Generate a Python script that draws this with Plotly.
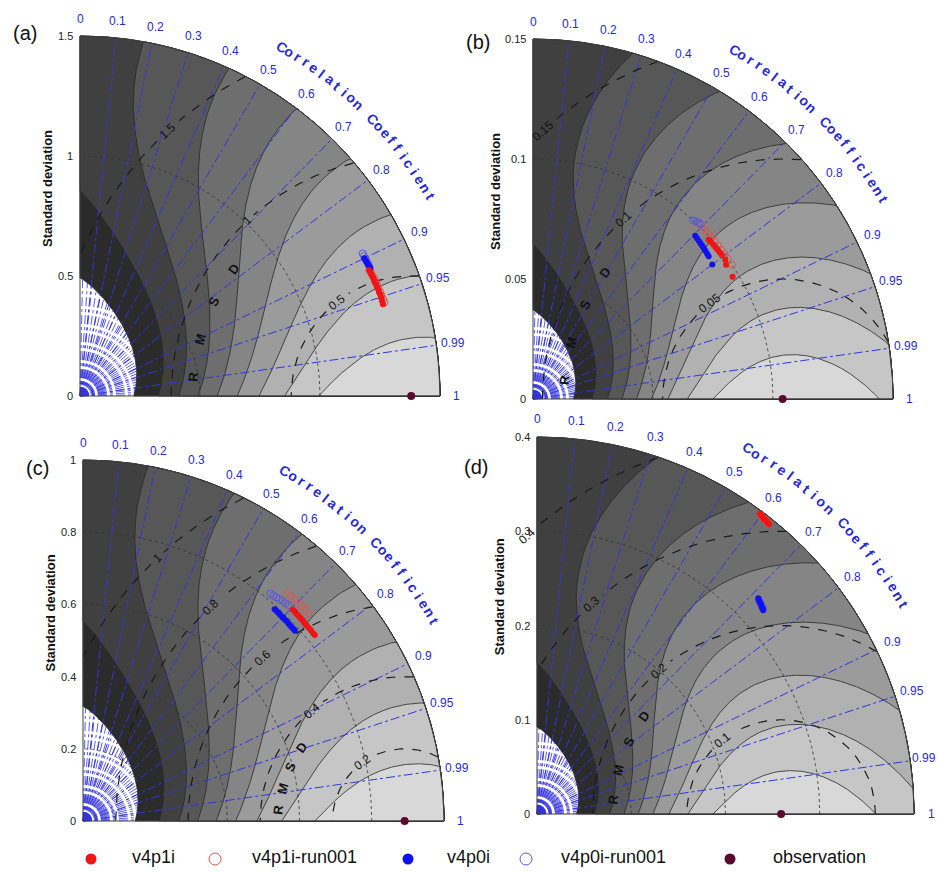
import numpy as np
import plotly.graph_objects as go

W, H = 937, 873
FONT = "Liberation Sans, Arial, sans-serif"

# ---------------- data ----------------
panel_names = ["(a)", "(b)", "(c)", "(d)"]
std_max = [1.5, 0.15, 1.0, 0.4]
obs_std = [1.38, 0.104, 0.891, 0.259]
std_ticks = [[0, 0.5, 1, 1.5], [0, 0.05, 0.1, 0.15], [0, 0.2, 0.4, 0.6, 0.8, 1], [0, 0.1, 0.2, 0.3, 0.4]]
std_tick_labels = [["0", "0.5", "1", "1.5"], ["0", "0.05", "0.1", "0.15"],
                   ["0", "0.2", "0.4", "0.6", "0.8", "1"], ["0", "0.1", "0.2", "0.3", "0.4"]]
std_arcs = [[0.5, 1.0], [0.05, 0.1], [0.2, 0.4, 0.6, 0.8], [0.1, 0.2, 0.3]]
rmsd_levels = [[0.5, 1.0, 1.5], [0.05, 0.1, 0.15], [0.2, 0.4, 0.6, 0.8, 1.0], [0.1, 0.2, 0.3, 0.4]]
rmsd_labels = [["0.5", "1", "1.5"], ["0.05", "0.1", "0.15"], ["0.2", "0.4", "0.6", "0.8", "1"], ["0.1", "0.2", "0.3", "0.4"]]
corr_ticks = [0, 0.1, 0.2, 0.3, 0.4, 0.5, 0.6, 0.7, 0.8, 0.9, 0.95, 0.99, 1]
corr_tick_labels = ["0", "0.1", "0.2", "0.3", "0.4", "0.5", "0.6", "0.7", "0.8", "0.9", "0.95", "0.99", "1"]
skill_levels = [0.1, 0.2, 0.3, 0.4, 0.5, 0.6, 0.7, 0.8, 0.9]

# panel (a)
a_v4p1i_std = [1.314, 1.316, 1.315, 1.317, 1.318, 1.316, 1.319, 1.318, 1.320, 1.319, 1.321, 1.320, 1.319, 1.319]
a_v4p1i_cor = [0.917, 0.920, 0.923, 0.927, 0.930, 0.933, 0.936, 0.939, 0.942, 0.945, 0.948, 0.951, 0.954, 0.957]
a_v4p1i_run_std = [1.314, 1.317, 1.318, 1.320, 1.321, 1.322, 1.323, 1.324, 1.325, 1.326, 1.327]
a_v4p1i_run_cor = [0.917, 0.921, 0.925, 0.929, 0.933, 0.937, 0.941, 0.945, 0.949, 0.953, 0.956]
a_v4p0i_std = [1.316, 1.317, 1.318, 1.319, 1.320, 1.321, 1.321]
a_v4p0i_cor = [0.900, 0.903, 0.906, 0.909, 0.911, 0.914, 0.916]
a_v4p0i_run_std = [1.319, 1.319, 1.320, 1.320, 1.321, 1.321]
a_v4p0i_run_cor = [0.893, 0.897, 0.901, 0.905, 0.909, 0.913]
# panel (b)
b_v4p1i_std = [0.0988, 0.0989, 0.0989, 0.0989, 0.0989, 0.0989, 0.0989, 0.0989, 0.0980, 0.0975]
b_v4p1i_cor = [0.741, 0.750, 0.759, 0.768, 0.777, 0.786, 0.795, 0.810, 0.821, 0.853]
b_v4p1i_run_std = [0.1006, 0.1005, 0.1004, 0.1003, 0.1003, 0.1002, 0.1001, 0.1001, 0.1000, 0.1000]
b_v4p1i_run_cor = [0.700, 0.714, 0.728, 0.742, 0.756, 0.770, 0.784, 0.798, 0.812, 0.829]
b_v4p0i_std = [0.0959, 0.0957, 0.0955, 0.0953, 0.0951, 0.0949, 0.0947, 0.0945, 0.0943, 0.0934]
b_v4p0i_cor = [0.705, 0.714, 0.723, 0.732, 0.741, 0.750, 0.759, 0.768, 0.776, 0.800]
b_v4p0i_run_std = [0.0999, 0.1003, 0.1006, 0.1009, 0.1008]
b_v4p0i_run_cor = [0.667, 0.674, 0.681, 0.688, 0.694]
# panel (c)
c_v4p1i_std = [0.825, 0.825, 0.824, 0.824, 0.824, 0.824, 0.823, 0.823, 0.823, 0.823, 0.823, 0.823]
c_v4p1i_cor = [0.704, 0.711, 0.718, 0.725, 0.732, 0.739, 0.746, 0.753, 0.760, 0.767, 0.774, 0.780]
c_v4p1i_run_std = [0.848, 0.848, 0.849, 0.849, 0.849, 0.850, 0.850]
c_v4p1i_run_cor = [0.667, 0.679, 0.690, 0.702, 0.713, 0.725, 0.736]
c_v4p0i_std = [0.791, 0.791, 0.791, 0.790, 0.790, 0.790, 0.790, 0.790, 0.789, 0.789, 0.789, 0.789]
c_v4p0i_cor = [0.671, 0.678, 0.684, 0.691, 0.698, 0.704, 0.711, 0.718, 0.724, 0.731, 0.738, 0.744]
c_v4p0i_run_std = [0.816, 0.818, 0.819, 0.821, 0.823, 0.824, 0.826]
c_v4p0i_run_cor = [0.636, 0.645, 0.654, 0.663, 0.672, 0.681, 0.690]
# panel (d)
d_v4p1i_std = [0.397, 0.396, 0.396, 0.395, 0.395, 0.395, 0.394, 0.394]
d_v4p1i_cor = [0.596, 0.600, 0.604, 0.608, 0.612, 0.616, 0.620, 0.625]
d_v4p1i_run_std = [0.396, 0.395, 0.395, 0.394]
d_v4p1i_run_cor = [0.600, 0.607, 0.614, 0.621]
d_v4p0i_std = [0.328, 0.327, 0.326, 0.326, 0.325, 0.324, 0.324, 0.323]
d_v4p0i_cor = [0.716, 0.720, 0.724, 0.728, 0.732, 0.736, 0.740, 0.743]
d_v4p0i_run_std = [0.327, 0.326, 0.325, 0.324]
d_v4p0i_run_cor = [0.720, 0.727, 0.734, 0.740]

series_names = ["v4p1i", "v4p1i-run001", "v4p0i", "v4p0i-run001"]
panel_series = [
    [(a_v4p1i_std, a_v4p1i_cor), (a_v4p1i_run_std, a_v4p1i_run_cor), (a_v4p0i_std, a_v4p0i_cor), (a_v4p0i_run_std, a_v4p0i_run_cor)],
    [(b_v4p1i_std, b_v4p1i_cor), (b_v4p1i_run_std, b_v4p1i_run_cor), (b_v4p0i_std, b_v4p0i_cor), (b_v4p0i_run_std, b_v4p0i_run_cor)],
    [(c_v4p1i_std, c_v4p1i_cor), (c_v4p1i_run_std, c_v4p1i_run_cor), (c_v4p0i_std, c_v4p0i_cor), (c_v4p0i_run_std, c_v4p0i_run_cor)],
    [(d_v4p1i_std, d_v4p1i_cor), (d_v4p1i_run_std, d_v4p1i_run_cor), (d_v4p0i_std, d_v4p0i_cor), (d_v4p0i_run_std, d_v4p0i_run_cor)],
]

# ---------------- layout / style ----------------
panel_origin_px = [(80, 396), (533, 399), (83, 821), (537, 814)]
panel_radius_px = [360, 360, 361, 377]
rmsd_label_angle = [[51.8, 47.1, 47.4], [52.8, 48.5, 48.2], [54.6, 49.9, 48.9, 47.8, 46.8], [51.6, 49.5, 47.9, 47.6]]
rmsd_word_radius = [0.91, 0.091, 0.35, 0.179]
rmsd_word_angles = [5, 15, 25.5, 35.5]
label_px = [(25, 33), (478, 42), (37, 468), (476, 467)]
band_colors = ["#2b2b2b", "#404040", "#575757", "#6e6e6e", "#858585", "#9b9b9b", "#b1b1b1", "#c6c6c6", "#d8d8d8"]
BLUE_LINE = "#3434dc"
BLUE_TEXT = "#2a2ad0"
series_style = [
    dict(symbol="circle", color="#f01414", size=6, line=dict(width=0)),
    dict(symbol="circle-open", color="#e05555", size=7, line=dict(width=1)),
    dict(symbol="circle", color="#1010f5", size=6, line=dict(width=0)),
    dict(symbol="circle-open", color="#5a5ad8", size=7, line=dict(width=1)),
]
OBS_COLOR = "#5a0a2e"
PAD = 0.03


def f_corr(th):
    t = np.clip(np.asarray(th, dtype=float) / 90.0, 0, 1)
    return 0.25 + 0.75 * (1 - t) ** 1.22


def band_polygon(L, obs, rmax):
    if L <= 0.25:
        thmax = 90.0
    else:
        thmax = 90.0 * (1 - ((L - 0.25) / 0.75) ** (1 / 1.22))
    th = np.linspace(0, thmax, 500)
    c = np.minimum(L / f_corr(th), 1.0)
    k = 2 / np.sqrt(c)
    d = np.sqrt(np.maximum(k * k - 4, 0))
    lo = np.minimum((k - d) / 2 * obs, rmax)
    hi = np.minimum((k + d) / 2 * obs, rmax)
    r = np.radians(th)
    xs = np.concatenate([lo * np.cos(r), (hi * np.cos(r))[::-1], [lo[0]]])
    ys = np.concatenate([lo * np.sin(r), (hi * np.sin(r))[::-1], [0.0]])
    return xs, ys


fig = go.Figure()
annotations = []

for p in range(4):
    sfx = "" if p == 0 else str(p + 1)
    xa, ya = "x" + sfx, "y" + sfx
    rmax = std_max[p]
    obs = obs_std[p]
    ox, oy = panel_origin_px[p]
    rpx = panel_radius_px[p]

    def to_px(x, y):
        return ox + x / rmax * rpx, oy - y / rmax * rpx

    def to_paper(x, y):
        qx, qy = to_px(x, y)
        return qx / W, 1 - qy / H

    fig.layout["xaxis" + sfx] = dict(
        domain=[(ox - PAD * rpx) / W, (ox + (1 + PAD) * rpx) / W],
        range=[-PAD * rmax, (1 + PAD) * rmax], visible=False, fixedrange=True, anchor=ya)
    fig.layout["yaxis" + sfx] = dict(
        domain=[(H - oy - PAD * rpx) / H, (H - oy + (1 + PAD) * rpx) / H],
        range=[-PAD * rmax, (1 + PAD) * rmax], visible=False, fixedrange=True, anchor=xa)

    # dense correlation grid near the origin (mostly hidden under the fills)
    dx, dy = [], []
    for ang in np.arange(1.25, 90, 2.5):
        a = np.radians(ang)
        dx += [0, 0.5 * rmax * np.cos(a), None]
        dy += [0, 0.5 * rmax * np.sin(a), None]
    fig.add_trace(go.Scatter(x=dx, y=dy, xaxis=xa, yaxis=ya, mode="lines",
                             line=dict(color=BLUE_LINE, width=0.8, dash="dashdot"), hoverinfo="skip", showlegend=False))
    ax_, ay_ = [], []
    tt = np.linspace(0, np.pi / 2, 30)
    for rr in [0.008, 0.016, 0.024, 0.032]:
        ax_ += list(rr * rmax * np.cos(tt)) + [None]
        ay_ += list(rr * rmax * np.sin(tt)) + [None]
    fig.add_trace(go.Scatter(x=ax_, y=ay_, xaxis=xa, yaxis=ya, mode="lines",
                             line=dict(color=BLUE_LINE, width=0.7), hoverinfo="skip", showlegend=False))

    # skill-score shaded bands
    for L, col in zip(skill_levels, band_colors):
        px_, py_ = band_polygon(L, obs, rmax)
        fig.add_trace(go.Scatter(x=px_, y=py_, xaxis=xa, yaxis=ya, mode="lines", fill="toself",
                                 fillcolor=col, line=dict(color="#2a2a2a", width=0.8),
                                 hoverinfo="skip", showlegend=False))

    # std dotted arcs
    sx, sy = [], []
    tt = np.linspace(0, np.pi / 2, 120)
    for s in std_arcs[p]:
        sx += list(s * np.cos(tt)) + [None]
        sy += list(s * np.sin(tt)) + [None]
    fig.add_trace(go.Scatter(x=sx, y=sy, xaxis=xa, yaxis=ya, mode="lines",
                             line=dict(color="#333333", width=0.8, dash="dot"), hoverinfo="skip", showlegend=False))

    # main correlation lines
    cx, cy = [], []
    for R in corr_ticks[1:-1]:
        a = np.arccos(R)
        cx += [0, rmax * np.cos(a), None]
        cy += [0, rmax * np.sin(a), None]
    fig.add_trace(go.Scatter(x=cx, y=cy, xaxis=xa, yaxis=ya, mode="lines",
                             line=dict(color=BLUE_LINE, width=1, dash="dashdot"), hoverinfo="skip", showlegend=False))

    # RMSD dashed circles, broken where the label sits
    rx, ry = [], []
    aa = np.linspace(0, np.pi, 600)
    for r, lab, phi in zip(rmsd_levels[p], rmsd_labels[p], rmsd_label_angle[p]):
        xx = obs + r * np.cos(aa)
        yy = r * np.sin(aa)
        ok = (xx >= 0) & (xx ** 2 + yy ** 2 <= rmax ** 2)
        half_px = 3.4 * len(lab) + 4
        half = half_px / rpx * rmax / r
        phi_here = np.pi - aa
        ok &= np.abs(phi_here - np.radians(phi)) > half
        xx = np.where(ok, xx, np.nan)
        yy = np.where(ok, yy, np.nan)
        rx += list(xx) + [None]
        ry += list(yy) + [None]
    fig.add_trace(go.Scatter(x=rx, y=ry, xaxis=xa, yaxis=ya, mode="lines", connectgaps=False,
                             line=dict(color="#1a1a1a", width=1.2, dash="dash"), hoverinfo="skip", showlegend=False))

    # frame
    tt = np.linspace(np.pi / 2, 0, 200)
    fx = [0] + list(rmax * np.cos(tt)) + [0, 0]
    fy = [0] + list(rmax * np.sin(tt)) + [0, 0]
    fig.add_trace(go.Scatter(x=fx, y=fy, xaxis=xa, yaxis=ya, mode="lines",
                             line=dict(color="#404040", width=1), hoverinfo="skip", showlegend=False))

    # data points
    for idx in [3, 1, 2, 0]:
        sd, cr = panel_series[p][idx]
        sd = np.array(sd)
        cr = np.array(cr)
        st = series_style[idx]
        fig.add_trace(go.Scatter(x=sd * cr, y=sd * np.sqrt(1 - cr ** 2), xaxis=xa, yaxis=ya, mode="markers",
                                 cliponaxis=False, name=series_names[idx],
                                 marker=dict(symbol=st["symbol"], color=st["color"], size=st["size"], line=st["line"]),
                                 showlegend=False))
    fig.add_trace(go.Scatter(x=[obs], y=[0], xaxis=xa, yaxis=ya, mode="markers", cliponaxis=False,
                             marker=dict(color=OBS_COLOR, size=8), name="observation", showlegend=False))

    # correlation tick labels
    for R, lab in zip(corr_ticks, corr_tick_labels):
        a = np.arccos(R)
        cxp, cyp = to_px(1.047 * rmax * np.cos(a), 1.047 * rmax * np.sin(a))
        halfw = (6.7 * sum(ch != "." for ch in lab) + 3.4 * lab.count(".")) / 2
        if cxp + halfw > W - 1:
            cxp = W - 1 - halfw
        annotations.append(dict(x=cxp / W, y=1 - cyp / H, xref="paper", yref="paper",
                                text=lab, showarrow=False, font=dict(family=FONT, size=12, color=BLUE_TEXT),
                                xanchor="center", yanchor="middle"))
    # "Correlation Coefficient" along arc
    word = "Correlation Coefficient"
    for i, ch in enumerate(word):
        if ch == " ":
            continue
        th = 60.0 - i * (30.3 / (len(word) - 1))
        a = np.radians(th)
        qx, qy = to_paper(1.12 * rmax * np.cos(a), 1.12 * rmax * np.sin(a))
        annotations.append(dict(x=qx, y=qy, xref="paper", yref="paper",
                                text="<b>%s</b>" % ch, showarrow=False, textangle=90 - th,
                                font=dict(family=FONT, size=14, color=BLUE_TEXT),
                                xanchor="center", yanchor="middle"))
    # std tick labels
    for v, lab in zip(std_ticks[p], std_tick_labels[p]):
        qx, qy = to_paper(0, v)
        annotations.append(dict(x=qx, y=qy, xref="paper", yref="paper", text=lab, showarrow=False, xanchor="right",
                                yanchor="middle", xshift=-5, font=dict(family=FONT, size=11, color="#222222")))
    # y title
    annotations.append(dict(x=(ox - 33 - (5 if p in (1, 3) else 0)) / W, y=1 - (oy - 0.575 * rpx) / H,
                            xref="paper", yref="paper", text="<b>Standard deviation</b>", showarrow=False,
                            textangle=-90, font=dict(family=FONT, size=13, color="#111111"),
                            xanchor="center", yanchor="middle"))
    # RMSD contour labels
    for r, lab, phi in zip(rmsd_levels[p], rmsd_labels[p], rmsd_label_angle[p]):
        ph = np.radians(phi)
        qx, qy = to_paper(obs - r * np.cos(ph), r * np.sin(ph))
        annotations.append(dict(x=qx, y=qy, xref="paper", yref="paper", text=lab,
                                showarrow=False, textangle=phi - 90, font=dict(family=FONT, size=12, color="#111111"),
                                xanchor="center", yanchor="middle"))
    # RMSD word
    for ch, phi in zip("RMSD", rmsd_word_angles):
        ph = np.radians(phi)
        rr = rmsd_word_radius[p]
        qx, qy = to_paper(obs - rr * np.cos(ph), rr * np.sin(ph))
        annotations.append(dict(x=qx, y=qy, xref="paper", yref="paper",
                                text="<b>%s</b>" % ch, showarrow=False, textangle=phi - 90,
                                font=dict(family=FONT, size=13, color="#111111"),
                                xanchor="center", yanchor="middle"))
    # panel label
    lx, ly = label_px[p]
    annotations.append(dict(x=lx / W, y=1 - ly / H, xref="paper", yref="paper", text=panel_names[p],
                            showarrow=False, font=dict(family=FONT, size=20, color="#111111"),
                            xanchor="center", yanchor="middle"))

# ---------------- legend (manual) ----------------
fig.layout["xaxis5"] = dict(domain=[0, 1], range=[0, W], visible=False, fixedrange=True, anchor="y5")
fig.layout["yaxis5"] = dict(domain=[0, 0.045], range=[0, 0.045 * H], visible=False, fixedrange=True, anchor="x5")
legend_marker_x = [91, 215, 408, 526, 730]
legend_text_x = [130, 250, 445, 559, 771]
legend_labels = series_names + ["observation"]
legend_styles = [
    dict(symbol="circle", color="#f01414", size=11, line=dict(width=0)),
    dict(symbol="circle-open", color="#e05555", size=12, line=dict(width=1)),
    dict(symbol="circle", color="#1010f5", size=11, line=dict(width=0)),
    dict(symbol="circle-open", color="#5a5ad8", size=12, line=dict(width=1)),
    dict(symbol="circle", color=OBS_COLOR, size=11, line=dict(width=0)),
]
ly_leg = H - 859
for mx, tx, lab, st in zip(legend_marker_x, legend_text_x, legend_labels, legend_styles):
    fig.add_trace(go.Scatter(x=[mx], y=[ly_leg], xaxis="x5", yaxis="y5", mode="markers", cliponaxis=False,
                             marker=st, showlegend=False, hoverinfo="skip"))
    annotations.append(dict(x=tx, y=ly_leg + 2, xref="x5", yref="y5", text=lab, showarrow=False,
                            xanchor="left", yanchor="middle", font=dict(family=FONT, size=18, color="#111111")))

fig.update_layout(width=W, height=H, margin=dict(l=0, r=0, t=0, b=0), paper_bgcolor="white",
                  plot_bgcolor="rgba(0,0,0,0)", showlegend=False, annotations=annotations)
fig.write_html("out.html", config={"displayModeBar": False},
               post_script="document.body.style.margin='0';")
